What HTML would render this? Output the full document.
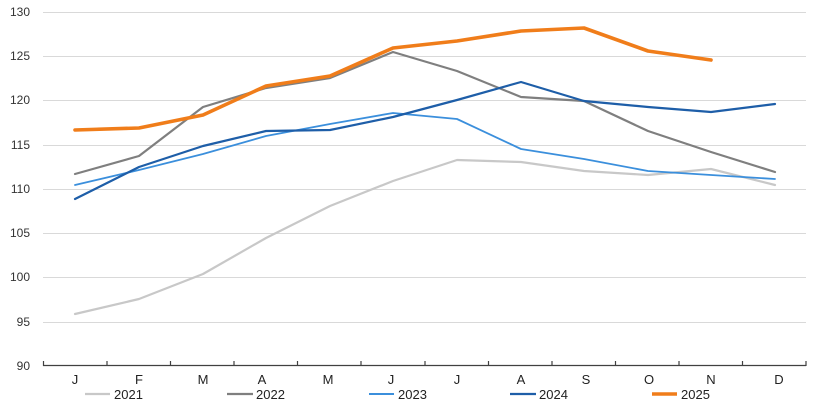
<!DOCTYPE html><html><head><style>body{margin:0;background:#fff}svg{display:block;font-family:"Liberation Sans",sans-serif}</style></head><body>
<svg width="820" height="418" viewBox="0 0 820 418">
<g stroke="#d9d9d9" stroke-width="1">
<line x1="43" x2="806" y1="12.5" y2="12.5"/><line x1="43" x2="806" y1="56.5" y2="56.5"/><line x1="43" x2="806" y1="100.5" y2="100.5"/><line x1="43" x2="806" y1="145.5" y2="145.5"/><line x1="43" x2="806" y1="189.5" y2="189.5"/><line x1="43" x2="806" y1="233.5" y2="233.5"/><line x1="43" x2="806" y1="277.5" y2="277.5"/><line x1="43" x2="806" y1="322.5" y2="322.5"/>
</g>
<g stroke="#404040" stroke-width="1.2"><line x1="43" x2="806" y1="365.5" y2="365.5"/>
<path d="M43.5 361v5M107 361v5M170.5 361v5M234 361v5M297.5 361v5M361 361v5M425 361v5M488.5 361v5M552 361v5M615.5 361v5M679 361v5M742.5 361v5M806 361v5"/></g>
<g font-size="12" fill="#333" text-anchor="end">
<text x="30" y="16">130</text><text x="30" y="60">125</text><text x="30" y="104">120</text><text x="30" y="149">115</text><text x="30" y="193">110</text><text x="30" y="237">105</text><text x="30" y="281">100</text><text x="30" y="326">95</text><text x="30" y="370">90</text></g>
<g font-size="13" fill="#222" text-anchor="middle">
<text x="75" y="384">J</text><text x="139" y="384">F</text><text x="203" y="384">M</text><text x="262" y="384">A</text><text x="328" y="384">M</text><text x="391" y="384">J</text><text x="457" y="384">J</text><text x="521" y="384">A</text><text x="586" y="384">S</text><text x="649" y="384">O</text><text x="711" y="384">N</text><text x="779" y="384">D</text></g>
<g fill="none" stroke-linejoin="round" stroke-linecap="round">
<polyline stroke="#c8c8c8" stroke-width="2.2" points="75,314 139,299 203,274 266,238 330,206 393,181 457,160 521,162 584,171 648,175 711,169 775,185"/>
<polyline stroke="#7f7f7f" stroke-width="2.2" points="75,174 139,156 203,107 266,88 330,78 393,52 457,71 521,97 584,101 648,131 711,152 775,172"/>
<polyline stroke="#3b8fdc" stroke-width="1.8" points="75,185 139,170 203,154 266,136 330,124 393,113 457,119 521,149 584,159 648,171 711,175 775,179"/>
<polyline stroke="#1e5ea8" stroke-width="2.2" points="75,199 139,167 203,146 266,131 330,130 393,117 457,100 521,82 584,101 648,107 711,112 775,104"/>
<polyline stroke="#f07d1a" stroke-width="3.6" points="75,130 139,128 203,115 266,86 330,76 393,48 457,41 521,31 584,28 648,51 711,60"/>
</g>
<g font-size="13" fill="#222">
<line x1="85" x2="110" y1="394" y2="394" stroke="#c8c8c8" stroke-width="2.2"/><text x="114" y="399">2021</text>
<line x1="227" x2="253" y1="394" y2="394" stroke="#7f7f7f" stroke-width="2.2"/><text x="256" y="399">2022</text>
<line x1="369" x2="394" y1="394" y2="394" stroke="#3b8fdc" stroke-width="2"/><text x="398" y="399">2023</text>
<line x1="510" x2="536" y1="394" y2="394" stroke="#1e5ea8" stroke-width="2.2"/><text x="539" y="399">2024</text>
<line x1="652" x2="677" y1="394" y2="394" stroke="#f07d1a" stroke-width="3.6"/><text x="681" y="399">2025</text>
</g>
</svg></body></html>
